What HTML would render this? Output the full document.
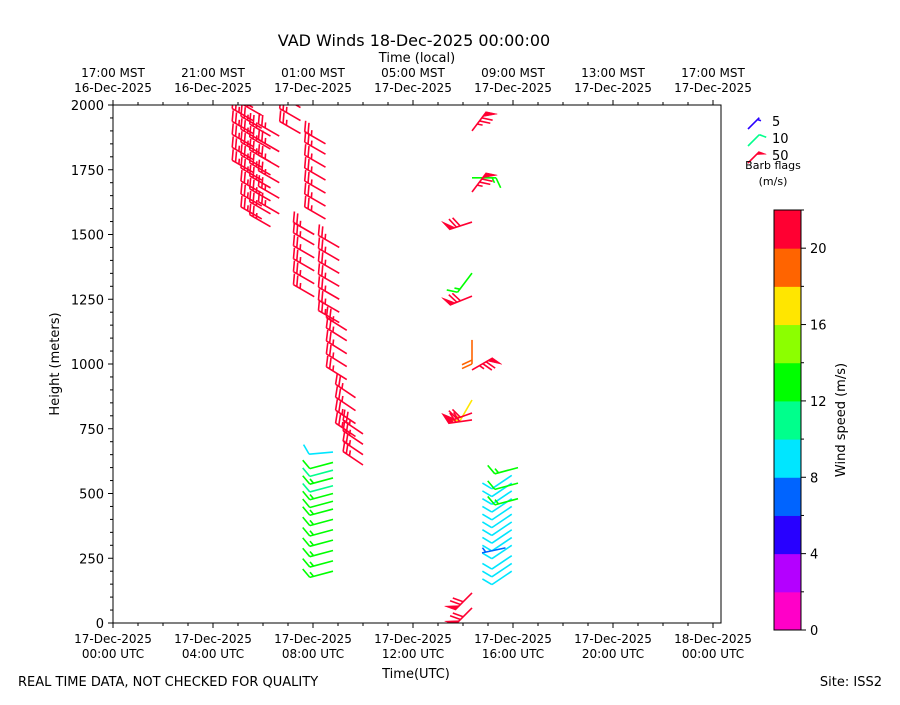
<!DOCTYPE html>
<html><head><meta charset="utf-8"><style>
body{margin:0;background:#fff;}
svg{font-family:"DejaVu Sans","Liberation Sans",sans-serif;}
</style></head><body>
<svg id="chart" width="900" height="700" viewBox="0 0 900 700" xmlns="http://www.w3.org/2000/svg">
<defs><clipPath id="clip"><rect x="113" y="105" width="608" height="518"/></clipPath></defs>
<text x="414" y="46" font-size="16" text-anchor="middle">VAD Winds 18-Dec-2025 00:00:00</text>
<text x="417" y="62" font-size="13" text-anchor="middle">Time (local)</text>
<text x="416" y="678" font-size="13" text-anchor="middle">Time(UTC)</text>
<text x="59" y="364" font-size="13" text-anchor="middle" transform="rotate(-90 59 364)">Height (meters)</text>
<text x="18" y="686" font-size="13">REAL TIME DATA, NOT CHECKED FOR QUALITY</text>
<text x="882" y="686" font-size="13" text-anchor="end">Site: ISS2</text>
<text x="845" y="420" font-size="13" text-anchor="middle" transform="rotate(-90 845 420)">Wind speed (m/s)</text>
<g id="axes"></g>
<g id="barbs" clip-path="url(#clip)"></g>
<rect x="113" y="105" width="608" height="518" fill="none" stroke="#000" stroke-width="1"/>
<g id="cbar"></g>
<g id="legend"></g>
</svg>
<script>
const xTickLabelsUTC = ["17-Dec-2025|00:00 UTC","17-Dec-2025|04:00 UTC","17-Dec-2025|08:00 UTC","17-Dec-2025|12:00 UTC","17-Dec-2025|16:00 UTC","17-Dec-2025|20:00 UTC","18-Dec-2025|00:00 UTC"];
const xTickLabelsLocal = ["17:00 MST|16-Dec-2025","21:00 MST|16-Dec-2025","01:00 MST|17-Dec-2025","05:00 MST|17-Dec-2025","09:00 MST|17-Dec-2025","13:00 MST|17-Dec-2025","17:00 MST|17-Dec-2025"];
const xTickHours = [0,4,8,12,16,20,24];
const yTicks = [0,250,500,750,1000,1250,1500,1750,2000];
const cbarTicks = [0,4,8,12,16,20];
const cbarColors = ["#ff00c8","#b400ff","#2800ff","#0064ff","#00e6ff","#00ff8c","#00ff00","#8cff00","#ffe600","#ff6400","#ff0032"];

const times = [
 5.6,5.6,5.6,5.6,5.6,5.6,
 5.95,5.95,5.95,5.95,5.95,5.95,5.95,5.95,5.95,
 6.3,6.3,6.3,6.3,6.3,6.3,6.3,6.3,
 6.65,6.65,6.65,6.65,6.65,6.65,
 7.5,7.5,7.5,
 8.05,8.05,8.05,8.05,8.05,8.05,
 8.5,8.5,8.5,8.5,8.5,8.5,8.5,
 9.05,9.05,9.05,9.05,9.05,9.05,9.05,
 9.35,9.35,9.35,9.35,9.35,
 9.7,9.7,9.7,9.7,
 10.0,10.0,10.0,10.0,
 8.8,8.8,8.8,8.8,8.8,8.8,8.8,8.8,8.8,8.8,8.8,8.8,8.8,8.8,
 15.95,15.95,15.95,15.95,15.95,15.95,15.95,15.95,15.95,15.95,15.95,15.95,15.95,
 16.2,16.2,16.2,15.7,
 14.36,14.36,14.36,14.36,14.36,14.36,14.36,14.36,14.36,14.36,14.36,14.36,14.36];
const heights = [
 1740,1790,1840,1890,1940,1990,
 1560,1610,1660,1710,1760,1810,1860,1910,1960,
 1530,1580,1630,1680,1730,1780,1830,1880,
 1580,1640,1700,1760,1820,1880,
 1890,1940,1990,
 1260,1310,1360,1410,1460,1500,
 1560,1610,1660,1710,1760,1810,1850,
 1160,1200,1250,1300,1350,1400,1450,
 940,990,1040,1090,1130,
 720,770,820,870,
 610,650,690,730,
 200,240,280,320,360,400,440,470,500,530,560,590,620,660,
 200,230,260,300,330,360,390,420,450,480,510,540,570,
 480,540,600,290,
 1900,1719,1664,1548,1351,1262,1093,977,861,811,784,116,58];
const speeds = [
 23,23,23,23,23,23,
 23,23,23,23,23,23,23,23,23,
 23,23,23,23,23,23,23,23,
 23,23,23,23,23,23,
 23,23,23,
 23,23,23,23,23,23,
 23,23,23,23,23,23,23,
 23,23,23,23,23,23,23,
 23,23,23,23,23,
 23,23,23,23,
 23,23,23,23,
 13,13,13,13,13,13,13,12,13,11,13,11,12,9,
 9,9,9,9,9,9,9,9,9,9,9,9,9,
 13,12,13,6,
 75,13,75,72,13,72,19,75,17,72,72,72,72];
const dirs = [
 300,300,300,300,300,300,
 300,300,300,300,300,300,300,300,300,
 300,300,300,300,300,300,300,300,
 300,300,300,300,300,300,
 300,300,300,
 300,300,300,300,300,300,
 300,300,300,300,300,300,300,
 300,300,300,300,300,300,300,
 302,302,302,302,302,
 304,304,304,304,
 304,304,304,304,
 255,255,255,255,255,255,255,255,255,255,255,255,255,265,
 236,236,236,236,236,236,236,236,236,236,236,236,236,
 255,255,255,258,
 37,90,37,252,217,248,180,60,210,250,262,225,225];

const NS="http://www.w3.org/2000/svg";
const X0=113,X1=721,Y0=623,Y1=105;
function xs(h){return X0+h*25;}
function ys(z){return Y0-(z/2000)*(Y0-Y1);}
function mk(tag,attrs,parent){const e=document.createElementNS(NS,tag);for(const k in attrs)e.setAttribute(k,attrs[k]);parent.appendChild(e);return e;}
function color(s){let i=Math.floor(s/2);if(i<0)i=0;if(i>10)i=10;return cbarColors[i];}

const axes=document.getElementById('axes');
for(let h=0;h<=24;h++){
  const x=xs(h);const major=h%4===0;
  const t=mk('line',{x1:x,x2:x,y1:Y0,y2:Y0+(major?5:3),stroke:'#000'},axes);
  
  const t2=mk('line',{x1:x,x2:x,y1:Y1,y2:Y1-(major?5:3),stroke:'#000'},axes);
  
}
xTickHours.forEach((h,i)=>{
  const x=xs(h);
  const p=xTickLabelsUTC[i].split('|');
  const tx=mk('text',{x:x,y:643,'font-size':12,'text-anchor':'middle'},axes);
  
  mk('tspan',{x:x,dy:0},tx).textContent=p[0];
  mk('tspan',{x:x,dy:15},tx).textContent=p[1];
  const q=xTickLabelsLocal[i].split('|');
  const tt=mk('text',{x:x,y:77,'font-size':12,'text-anchor':'middle'},axes);
  
  mk('tspan',{x:x,dy:0},tt).textContent=q[0];
  mk('tspan',{x:x,dy:15},tt).textContent=q[1];
});
for(let z=0;z<=2000;z+=50){
  const y=ys(z);const major=z%250===0;
  const t=mk('line',{x1:X0,x2:X0-(major?5:3),y1:y,y2:y,stroke:'#000'},axes);
  
}
yTicks.forEach(z=>{
  const t=mk('text',{x:104,y:ys(z)+5,'font-size':13,'text-anchor':'end'},axes);
  
  t.textContent=z;
});

function drawBarb(g,bx,by,spd,dir,col,L){
  const r=dir*Math.PI/180;
  const ux=Math.sin(r),uy=-Math.cos(r);
  const tx=bx+ux*L,ty=by+uy*L;
  const a=Math.atan2(uy,ux)+65*Math.PI/180;
  const bxv=Math.cos(a),byv=Math.sin(a);
  const grp=mk('g',{stroke:col,fill:col,'stroke-width':1.6},g);
  
  
  mk('line',{x1:bx,y1:by,x2:tx,y2:ty},grp);
  let v=Math.round(spd/5)*5;
  let pos=0;const bl=L*0.46,sp=L*0.16;
  while(v>=50){
    const px=tx-ux*pos,py=ty-uy*pos;
    const qx=tx-ux*(pos+sp*1.6),qy=ty-uy*(pos+sp*1.6);
    mk('polygon',{points:`${px},${py} ${px+bxv*bl},${py+byv*bl} ${qx},${qy}`,'stroke-width':0.5},grp);
    pos+=sp*2;v-=50;
  }
  while(v>=10){
    const px=tx-ux*pos,py=ty-uy*pos;
    mk('line',{x1:px,y1:py,x2:px+bxv*bl,y2:py+byv*bl},grp);
    pos+=sp;v-=10;
  }
  if(v>=5){
    if(pos===0)pos=sp;
    const px=tx-ux*pos,py=ty-uy*pos;
    mk('line',{x1:px,y1:py,x2:px+bxv*bl*0.5,y2:py+byv*bl*0.5},grp);
  }
}
const barbs=document.getElementById('barbs');
for(let i=0;i<times.length;i++){
  drawBarb(barbs,xs(times[i]),ys(heights[i]),speeds[i],dirs[i],color(speeds[i]),24);
}

const cb=document.getElementById('cbar');
const cx=774,cw=27,cyTop=210,cyBot=630;
function cy(v){return cyBot-(v/22)*(cyBot-cyTop);}
cbarColors.forEach((c,i)=>{
  const r=mk('rect',{x:cx,y:cy((i+1)*2),width:cw,height:cy(i*2)-cy((i+1)*2)+0.5,fill:c},cb);
  
});
mk('rect',{x:cx,y:cyTop,width:cw,height:cyBot-cyTop,fill:'none',stroke:'#000'},cb);
for(let v=0;v<=22;v+=2){
  const major=v%4===0;
  const l=mk('line',{x1:cx+cw,x2:cx+cw+(major?5:3),y1:cy(v),y2:cy(v),stroke:'#000'},cb);
  
}
cbarTicks.forEach(v=>{
  const t=mk('text',{x:810,y:cy(v)+5,'font-size':13},cb);
  
  t.textContent=v;
});

const lg=document.getElementById('legend');
const legendSpeeds=[5,10,50];
const legendLabels=["5","10","50"];
const legendColors=["#2800ff","#00ff8c","#ff0032"];
legendSpeeds.forEach((s,i)=>{
  const y=129+i*17;
  drawBarb(lg,748,y,s,45,legendColors[i],16);
  const t=mk('text',{x:772,y:y-3,'font-size':13},lg);
  
  t.textContent=legendLabels[i];
});
const lt=mk('text',{x:773,y:169,'font-size':11,'text-anchor':'middle'},lg);

lt.textContent='Barb flags';
const lu=mk('text',{x:773,y:185,'font-size':11,'text-anchor':'middle'},lg);

lu.textContent='(m/s)';
</script>
</body></html>
